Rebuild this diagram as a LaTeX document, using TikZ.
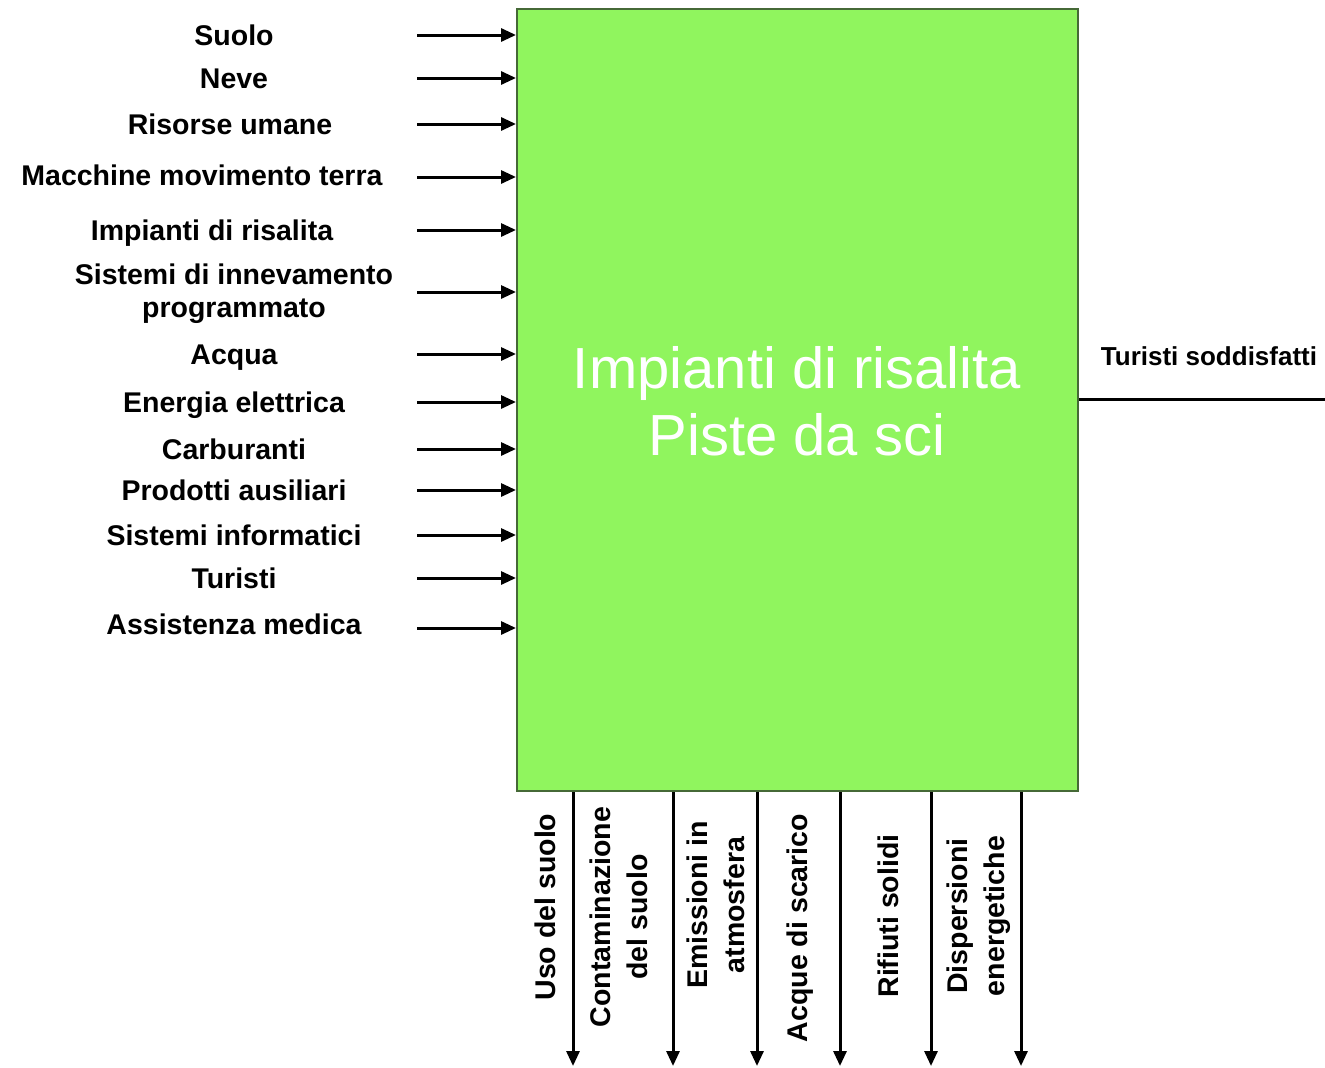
\documentclass[tikz,border=0pt]{standalone}
\usepackage{fontspec}
\setmainfont{Liberation Sans}
\usetikzlibrary{arrows.meta}
\definecolor{boxgreen}{RGB}{144,245,94}
\definecolor{boxedge}{RGB}{70,105,55}
\begin{document}
\begin{tikzpicture}[x=1pt,y=-1pt,
  lab/.style={font=\fontsize{28.5}{33}\selectfont\bfseries, align=center, inner sep=0pt, text height=20pt, text depth=0pt},
  mlab/.style={font=\fontsize{28.5}{33}\selectfont\bfseries, align=center, inner sep=0pt},
  blab/.style={font=\fontsize{28.5}{37}\selectfont\bfseries, align=center, inner sep=0pt, rotate=90},
  arr/.style={line width=3pt, -{Triangle[length=15pt,width=13pt]}},
  plain/.style={line width=3pt}]
\useasboundingbox (0,0) rectangle (1325,1068);
\node[draw=boxedge, line width=2pt, fill=boxgreen, minimum width=561pt, minimum height=782pt, anchor=north west, inner sep=0pt] (box) at (516,8) {};
\node[text=white, font=\fontsize{58}{67}\selectfont, align=center] (title) at (797,401) {Impianti di risalita\\Piste da sci};
% inputs
\foreach \i/\lx/\ly/\ay/\t in {
  1/234/35/35/Suolo,
  2/234/78/78/Neve,
  3/230/124/124/Risorse umane,
  4/202/175/177/Macchine movimento terra,
  5/212/230/230/Impianti di risalita,
  7/234/354/354/Acqua,
  8/234/402/402/Energia elettrica,
  9/234/449/449/Carburanti,
  10/234/490/490/Prodotti ausiliari,
  11/234/535/535/Sistemi informatici,
  12/234/578/578/Turisti,
  13/234/624/628/Assistenza medica}{
  \node[lab] (in\i) at (\lx,\ly) {\t};
  \coordinate (s\i) at (417,\ay);
  \draw[arr] (s\i) -- (s\i -| box.west);
}
\node[mlab] (in6) at (234,294) {Sistemi di innevamento\\programmato};
\coordinate (s6) at (417,292);
\draw[arr] (s6) -- (s6 -| box.west);
% outputs
\foreach \i/\bx/\lx/\ly/\t in {
  1/573/545/907/Uso del suolo,
  2/673/619/917/{Contaminazione\\del suolo},
  3/757/716/905/{Emissioni in\\atmosfera},
  4/840/800/928/Acque di scarico,
  5/931/888/916/Rifiuti solidi,
  6/1021/979/916/{Dispersioni\\energetiche}}{
  \node[blab] (out\i) at (\lx,\ly) {\t};
  \coordinate (b\i) at (\bx,1066);
  \draw[arr] (b\i |- box.south) -- (b\i);
}
% product
\coordinate (prod) at (1325,399);
\draw[plain] (box.east |- prod) -- (prod);
\node[lab, font=\fontsize{26}{30}\selectfont\bfseries, text height=18.5pt] (prodlab) at (1209,356) {Turisti soddisfatti};
\end{tikzpicture}
\end{document}
